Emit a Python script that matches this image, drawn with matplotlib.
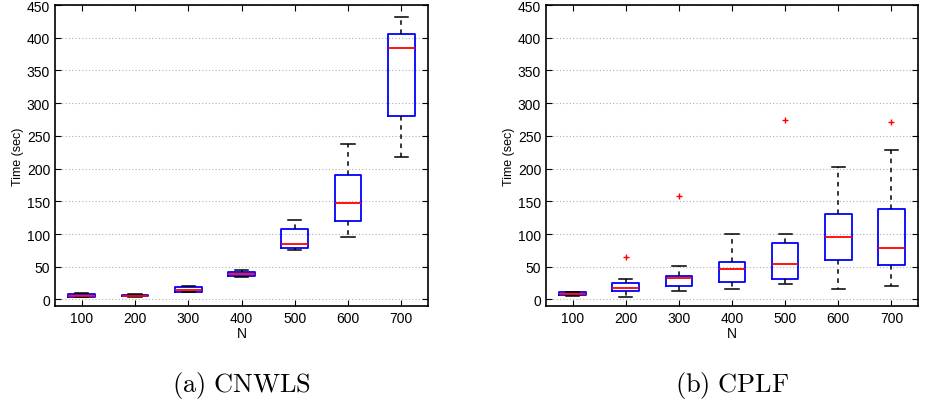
import matplotlib
matplotlib.use("Agg")
import matplotlib.pyplot as plt

plt.rcParams['font.family'] = ['Liberation Sans', 'DejaVu Sans']
plt.rcParams['mathtext.fontset'] = 'cm'

N = [100, 200, 300, 400, 500, 600, 700]

# (a) CNWLS
a_lo = [3, 3, 11, 35, 76, 96, 217]
a_q1 = [4, 5, 12, 35.5, 78.5, 120, 281]
a_med = [6, 6, 15, 38.5, 85.5, 148, 384]
a_q3 = [8, 7, 19, 41.5, 108, 190, 406]
a_hi = [10, 8, 20, 45.5, 122, 237, 431]
a_out = [[], [], [], [], [], [], []]

# (b) CPLF
b_lo = [5, 4.5, 12.5, 16, 23, 16, 20]
b_q1 = [6.5, 13, 21, 27, 31, 61, 52]
b_med = [8.5, 17.5, 33, 47, 54, 95, 78]
b_q3 = [11, 25, 35.5, 57, 87, 131, 139]
b_hi = [12, 32, 51, 100, 100, 203, 228]
b_out = [[], [65], [157.5], [], [273.5], [], [270.5]]


def panel(ax, lo, q1, med, q3, hi, out, caption):
    stats = []
    for i in range(len(N)):
        stats.append(dict(whislo=lo[i], q1=q1[i], med=med[i], q3=q3[i],
                          whishi=hi[i], fliers=out[i]))
    ax.bxp(stats, widths=0.5, showfliers=True,
           boxprops=dict(color='#0000ff', linewidth=1.3),
           medianprops=dict(color='#ff0000', linewidth=1.3),
           whiskerprops=dict(color='black', linestyle=(0, (3, 3)), linewidth=1.1),
           capprops=dict(color='black', linewidth=1.1),
           flierprops=dict(marker='+', markeredgecolor='#ff0000',
                           markersize=4, linestyle='none'))
    ax.set_xlim(0.5, 7.5)
    ax.set_ylim(-10, 450)
    ax.set_yticks(range(0, 451, 50))
    ax.set_xticks(range(1, 8))
    ax.set_xticklabels([str(n) for n in N])
    ax.yaxis.grid(True, linestyle=(0, (1, 2)), color='#b0b0b0', linewidth=0.8)
    ax.set_axisbelow(True)
    ax.tick_params(direction='in', top=True, right=True, labelsize=10, length=4)
    for s in ax.spines.values():
        s.set_linewidth(1.2)
    ax.set_xlabel('N', fontsize=10, labelpad=1)
    ax.set_ylabel('Time (sec)', fontsize=9, labelpad=2)
    ax.text(0.5, -0.26, r'$\mathrm{' + caption + '}$', transform=ax.transAxes,
            ha='center', va='center', fontsize=19)


fig = plt.figure(figsize=(9.27, 4.06), dpi=100)
ax1 = fig.add_axes([55 / 927, 99 / 406, 373 / 927, 301 / 406])
ax2 = fig.add_axes([546 / 927, 99 / 406, 372 / 927, 301 / 406])
panel(ax1, a_lo, a_q1, a_med, a_q3, a_hi, a_out, r'(a)\ CNWLS')
panel(ax2, b_lo, b_q1, b_med, b_q3, b_hi, b_out, r'(b)\ CPLF')

fig.savefig('out.png', dpi=100)
